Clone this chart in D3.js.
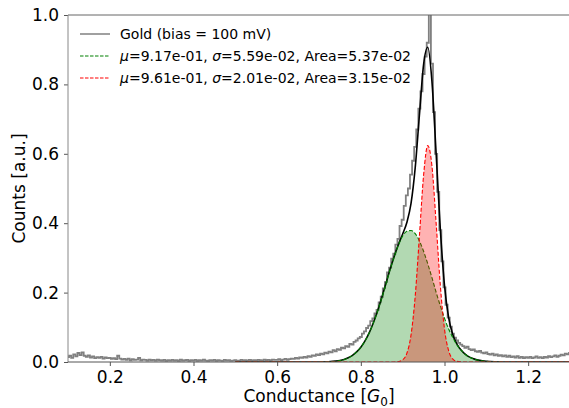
<!DOCTYPE html>
<html>
<head>
<meta charset="utf-8">
<script src="https://cdn.jsdelivr.net/npm/d3@7"></script>
<style>
  body { margin: 0; background: #fff; }
  text { font-family: "DejaVu Sans", sans-serif; }
</style>
</head>
<body>
<svg id="chart" width="569" height="408"></svg>
<script>
// measured histogram, x from 0.100 to 1.300 in 0.005 steps
var dataStart = 0.1;
var dataStep = 0.005;
var goldCounts = [
  0.014,0.018,0.012,0.022,0.016,0.026,0.020,0.028,0.018,0.015,0.019,0.013,0.016,0.011,0.014,0.012,0.015,0.010,0.013,0.011,
  0.012,0.009,0.011,0.008,0.018,0.010,0.007,0.009,0.006,0.010,0.005,0.008,0.006,0.007,0.012,0.005,0.007,0.006,0.004,0.007,
  0.005,0.006,0.004,0.007,0.005,0.004,0.006,0.003,0.005,0.004,0.006,0.004,0.005,0.003,0.007,0.004,0.005,0.006,0.003,0.005,
  0.004,0.006,0.003,0.005,0.004,0.007,0.004,0.003,0.005,0.004,0.006,0.003,0.005,0.004,0.003,0.006,0.004,0.005,0.003,0.004,
  0.005,0.003,0.004,0.006,0.004,0.005,0.003,0.006,0.004,0.005,0.004,0.006,0.005,0.004,0.007,0.005,0.006,0.004,0.007,0.006,
  0.006,0.008,0.005,0.007,0.009,0.006,0.008,0.010,0.009,0.012,0.010,0.013,0.012,0.015,0.013,0.017,0.015,0.019,0.018,0.022,
  0.020,0.024,0.022,0.027,0.025,0.030,0.028,0.034,0.031,0.037,0.035,0.041,0.039,0.046,0.044,0.052,0.050,0.058,0.062,0.068,
  0.072,0.082,0.088,0.098,0.105,0.118,0.126,0.140,0.150,0.172,0.188,0.212,0.230,0.258,0.272,0.298,0.312,0.338,0.355,0.392,
  0.410,0.450,0.480,0.500,0.540,0.580,0.620,0.670,0.730,0.780,0.830,0.880,0.920,1.050,0.860,0.720,0.600,0.490,0.380,0.290,
  0.215,0.165,0.128,0.102,0.082,0.070,0.062,0.055,0.050,0.046,0.041,0.044,0.037,0.034,0.036,0.031,0.029,0.032,0.027,0.025,
  0.028,0.023,0.021,0.024,0.019,0.022,0.018,0.020,0.016,0.019,0.015,0.018,0.014,0.016,0.013,0.017,0.012,0.015,0.011,0.014,
  0.012,0.015,0.011,0.013,0.016,0.012,0.014,0.011,0.015,0.013,0.017,0.014,0.016,0.019,0.015,0.018,0.021,0.019,0.024,0.022,
  0.026
];

// fit curves sampled on this grid
var fitX = [0.50,0.55,0.60,0.64,0.66,0.68,0.70,0.72,0.74,0.75,0.76,0.77,0.78,0.79,0.80,0.81,0.82,0.83,0.84,0.85,
  0.86,0.87,0.88,0.89,0.90,0.91,0.92,0.93,0.94,0.95,0.96,0.97,0.98,0.99,1.00,1.01,1.02,1.03,1.04,1.05,
  1.06,1.07,1.08,1.09,1.10,1.12,1.14,1.16,1.20,1.25,1.30];
var greenFit = [0,0,0,0,0,0.00005,0.0002,0.0008,0.0025,0.0044,0.0074,0.012,0.019,0.029,0.0425,0.061,0.084,0.113,0.147,0.185,
  0.226,0.267,0.305,0.338,0.363,0.377,0.379,0.370,0.349,0.319,0.283,0.243,0.201,0.162,0.126,0.095,0.070,0.049,0.034,0.022,
  0.014,0.009,0.0054,0.0032,0.0018,0.0005,0.0001,0,0,0,0];
var redFit = [0,0,0,0,0,0,0,0,0,0,0,0,0,0,0,0,0,0,0,0,
  0,0,0.0002,0.0012,0.0063,0.025,0.078,0.190,0.362,0.538,0.624,0.565,0.400,0.221,0.095,0.032,0.0084,0.0017,0.0003,0,
  0,0,0,0,0,0,0,0,0,0,0];
var totalFit = [0,0,0,0,0,0.00005,0.0002,0.0008,0.0025,0.0044,0.0074,0.012,0.019,0.029,0.0425,0.061,0.084,0.113,0.147,0.185,
  0.226,0.267,0.305,0.339,0.369,0.402,0.457,0.560,0.711,0.857,0.907,0.808,0.601,0.383,0.221,0.127,0.078,0.051,0.034,0.022,
  0.014,0.009,0.0054,0.0032,0.0018,0.0005,0.0001,0,0,0,0];

var xTicks = [0.2, 0.4, 0.6, 0.8, 1.0, 1.2];
var yTicks = [0.0, 0.2, 0.4, 0.6, 0.8, 1.0];

var svg = d3.select("#chart");
var margin = {top: 15, right: -1, bottom: 46, left: 68};
var width = 569 - margin.left - margin.right;
var height = 408 - margin.top - margin.bottom;

var x = d3.scaleLinear().domain([0.1, 1.3]).range([0, width]);
var y = d3.scaleLinear().domain([0, 1]).range([height, 0]);

svg.append("defs").append("clipPath").attr("id", "clip")
  .append("rect").attr("x", 0).attr("y", 0).attr("width", width).attr("height", height);

var plot = svg.append("g").attr("transform", "translate(" + margin.left + "," + margin.top + ")");
var inner = plot.append("g").attr("clip-path", "url(#clip)");

var goldPts = goldCounts.map(function(v, i){ return [dataStart + i * dataStep, v]; });
var line = d3.line().x(function(d){ return x(d[0]); }).y(function(d){ return y(d[1]); });

inner.append("path")
  .attr("d", line.curve(d3.curveStep)(goldPts))
  .attr("fill", "none").attr("stroke", "#808080").attr("stroke-width", 1.8);

function pts(arr){ return arr.map(function(v, i){ return [fitX[i], v]; }); }
var smooth = d3.line().x(function(d){ return x(d[0]); }).y(function(d){ return y(d[1]); })
  .curve(d3.curveMonotoneX);
var area = d3.area().x(function(d){ return x(d[0]); }).y0(y(0)).y1(function(d){ return y(d[1]); })
  .curve(d3.curveMonotoneX);

inner.append("path").attr("d", smooth(pts(totalFit)))
  .attr("fill", "none").attr("stroke", "#000").attr("stroke-width", 1.6);

inner.append("path").attr("d", area(pts(greenFit)))
  .attr("fill", "#008000").attr("fill-opacity", 0.3);
inner.append("path").attr("d", smooth(pts(greenFit)))
  .attr("fill", "none").attr("stroke", "#008000").attr("stroke-width", 1.1).attr("stroke-dasharray", "4,2");

inner.append("path").attr("d", area(pts(redFit)))
  .attr("fill", "#ff0000").attr("fill-opacity", 0.3);
inner.append("path").attr("d", smooth(pts(redFit)))
  .attr("fill", "none").attr("stroke", "#ff0000").attr("stroke-width", 1.1).attr("stroke-dasharray", "4,2");

// axes
var xAxis = d3.axisBottom(x).tickValues(xTicks).tickFormat(d3.format(".1f")).tickSize(4).tickPadding(5);
var yAxis = d3.axisLeft(y).tickValues(yTicks).tickFormat(d3.format(".1f")).tickSize(4).tickPadding(5);
var xg = plot.append("g").attr("transform", "translate(0," + height + ")").call(xAxis);
var yg = plot.append("g").call(yAxis);
[xg, yg].forEach(function(g){
  g.select(".domain").remove();
  g.selectAll("line").attr("stroke", "#555");
  g.selectAll("text").attr("fill", "#000").style("font-size", "17px").style("font-family", "DejaVu Sans");
});

// spines
plot.append("line").attr("x1", 0).attr("x2", width).attr("y1", 0).attr("y2", 0).attr("stroke", "#666");
plot.append("line").attr("x1", 0).attr("x2", 0).attr("y1", 0).attr("y2", height).attr("stroke", "#888");
plot.append("line").attr("x1", 0).attr("x2", width).attr("y1", height).attr("y2", height).attr("stroke", "#555");

// axis labels
var xl = svg.append("text").attr("x", margin.left + width / 2).attr("y", 402)
  .attr("text-anchor", "middle").style("font-size", "17px");
xl.append("tspan").text("Conductance [");
xl.append("tspan").style("font-style", "italic").text("G");
xl.append("tspan").attr("dy", 4).style("font-size", "12px").text("0");
xl.append("tspan").attr("dy", -4).text("]");

svg.append("text").attr("transform", "translate(25," + (margin.top + height / 2) + ") rotate(-90)")
  .attr("text-anchor", "middle").style("font-size", "17px").text("Counts [a.u.]");

// legend
var legend = plot.append("g").attr("transform", "translate(12,19)");
var rows = [
  {color: "#808080", dash: null, w: 1.5, parts: [["Gold (bias = 100 mV)", false]]},
  {color: "#008000", dash: "3.5,1.5", w: 1.2, parts: [["μ", true], ["=9.17e-01, ", false], ["σ", true], ["=5.59e-02, Area=5.37e-02", false]]},
  {color: "#ff0000", dash: "3.5,1.5", w: 1.2, parts: [["μ", true], ["=9.61e-01, ", false], ["σ", true], ["=2.01e-02, Area=3.15e-02", false]]}
];
rows.forEach(function(r, i){
  var g = legend.append("g").attr("transform", "translate(0," + (i * 22) + ")");
  g.append("line").attr("x1", 0).attr("x2", 30).attr("y1", 0).attr("y2", 0)
    .attr("stroke", r.color).attr("stroke-width", r.w).attr("stroke-dasharray", r.dash);
  var t = g.append("text").attr("x", 40).attr("y", 5).style("font-size", "14px");
  r.parts.forEach(function(p){
    t.append("tspan").style("font-style", p[1] ? "italic" : "normal").text(p[0]);
  });
});
</script>
</body>
</html>
